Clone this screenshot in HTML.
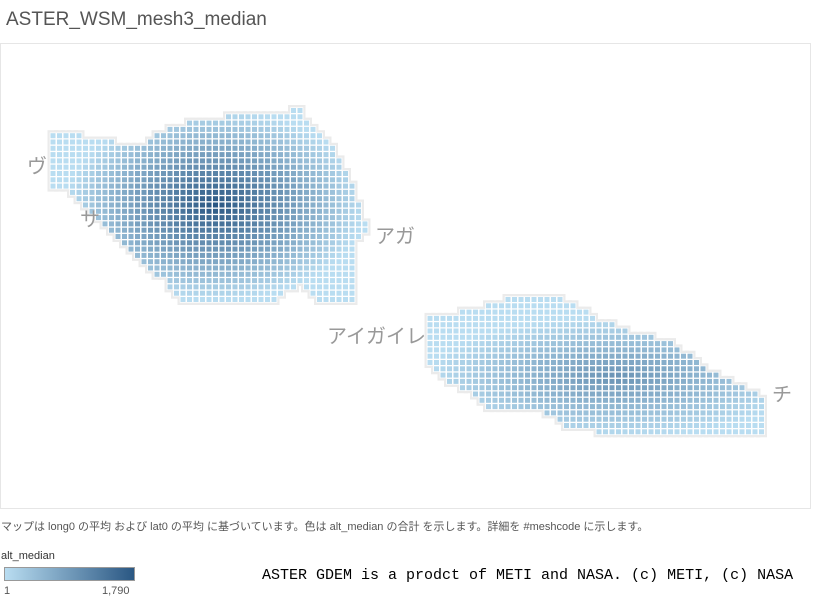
<!DOCTYPE html>
<html><head><meta charset="utf-8"><style>
body{margin:0;background:#fff;width:813px;height:603px;overflow:hidden;font-family:"Liberation Sans","Noto Sans CJK JP",sans-serif;position:relative}
.t{position:absolute;left:6px;top:9px;font-size:19px;color:#555}
.frame{position:absolute;left:0;top:43px;width:811px;height:466px;border:1px solid #e6e6e6;box-sizing:border-box}
.cap{position:absolute;left:1px;top:518px;font-size:11px;color:#555}
.lt{position:absolute;left:1px;top:550px;font-size:11px;color:#333}
.lg{position:absolute;left:4px;top:567px;width:131px;height:14px;border:1px solid #999;box-sizing:border-box;background:linear-gradient(90deg,#b9ddf1,#2a5783)}
.l1{position:absolute;left:4px;top:585px;font-size:11px;color:#555}
.l2{position:absolute;left:102px;top:585px;font-size:11px;color:#555}
.cr{position:absolute;left:262px;top:567px;font-family:"Liberation Mono",monospace;font-size:15px;color:#000}
.m{position:absolute;font-size:20px;color:#999}
</style></head><body>
<div class="t">ASTER_WSM_mesh3_median</div>
<div class="frame"></div>
<svg id="s" width="813" height="603" style="position:absolute;left:0;top:0"></svg>
<div class="m" style="left:27px;top:150px">ヴ</div>
<div class="m" style="left:80px;top:203px">サ</div>
<div class="m" style="left:375px;top:220px">アガ</div>
<div class="m" style="left:327px;top:320px">アイガイレ</div>
<div class="m" style="left:772px;top:378px">チ</div>
<div class="cap">マップは long0 の平均 および lat0 の平均 に基づいています。色は alt_median の合計 を示します。詳細を #meshcode に示します。</div>
<div class="lt">alt_median</div>
<div class="lg"></div>
<div class="l1">1</div><div class="l2">1,790</div>
<div class="cr">ASTER GDEM is a prodct of METI and NASA. (c) METI, (c) NASA</div>
<script>
var P1=[[48,135],[80,135],[90,140],[112,140],[118,146],[145,146],[158,132],[180,124],[200,122],[215,118],[245,113],[270,112],[300,110],[310,122],[322,135],[335,150],[345,168],[355,185],[360,205],[368,235],[358,240],[356,300],[320,302],[300,285],[275,300],[190,302],[178,298],[165,282],[150,268],[130,252],[112,235],[96,218],[82,207],[66,192],[48,186]];
var P2=[[427,315],[480,310],[500,300],[520,296],[555,297],[580,308],[600,320],[640,335],[665,340],[690,355],[710,370],[740,385],[760,395],[768,410],[766,432],[740,432],[700,432],[660,432],[600,432],[575,430],[540,412],[505,412],[486,410],[470,394],[440,378],[427,362]];
function inside(p,x,y){var c=false;for(var i=0,j=p.length-1;i<p.length;j=i++){var a=p[i],b=p[j];if((a[1]>y)!=(b[1]>y)&&x<(b[0]-a[0])*(y-a[1])/(b[1]-a[1])+a[0])c=!c;}return c;}
function col(t){t=Math.max(0,Math.min(1,t));var a=[185,221,241],b=[42,87,131];return 'rgb('+a.map(function(v,i){return Math.round(v+(b[i]-v)*t)}).join(',')+')';}
var h='',g='',w='';
function isl(p,px,py,rx,ry,mx){for(var x=44;x<775;x+=6.5)for(var y=108;y<440;y+=6.3){var cx=x+2.5,cy=y+2.5;if(!inside(p,cx,cy))continue;var dx=(cx-px)/rx,dy=(cy-py)/ry;var t=mx*Math.max(0,1-Math.sqrt(dx*dx+dy*dy));g+='<rect x="'+(x-3)+'" y="'+(y-3)+'" width="11" height="11" fill="#ebebeb"/>';w+='<rect x="'+(x-0.8)+'" y="'+(y-0.7)+'" width="6.6" height="6.4" fill="#fff"/>';h+='<rect x="'+x+'" y="'+y+'" width="5" height="5" fill="'+col(t)+'"/>';}}
isl(P1,215,205,150,95,1.0);
isl(P2,615,377,190,60,0.55);
document.getElementById('s').innerHTML=g+w+h;
</script>
</body></html>
